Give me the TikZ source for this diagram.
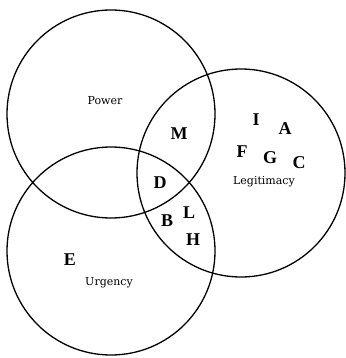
\documentclass[tikz,border=0pt]{standalone}
\usepackage{fontspec}
\setmainfont{Liberation Serif}
\newfontfamily\labelfont{DejaVu Serif}
\begin{document}
\begin{tikzpicture}[x=1pt,y=-1pt,
  ring/.style={draw=black,line width=1.3pt},
  letter/.style={inner sep=0pt,font=\fontsize{18}{18}\selectfont\bfseries},
  setname/.style={inner sep=0pt,font=\labelfont\fontsize{11}{11}\selectfont}]
\useasboundingbox (0,0) rectangle (345,358);
\draw[ring] (111,114) circle[radius=104];
\draw[ring] (241,173) circle[radius=104];
\draw[ring] (111,251) circle[radius=104];
\node[setname] (power) at (105,101) {Power};
\node[setname] (legit) at (264,182) {Legitimacy};
\node[setname] (urg) at (109,283) {Urgency};
\node[letter] (M) at (179,134) {M};
\node[letter] (I) at (256,120) {I};
\node[letter] (A) at (285,129) {A};
\node[letter] (F) at (242,152) {F};
\node[letter] (G) at (270,158) {G};
\node[letter] (C) at (299,163) {C};
\node[letter] (D) at (160,183) {D};
\node[letter] (B) at (167,221) {B};
\node[letter] (L) at (189,213) {L};
\node[letter] (H) at (193,240) {H};
\node[letter] (E) at (70,260) {E};
\end{tikzpicture}
\end{document}
